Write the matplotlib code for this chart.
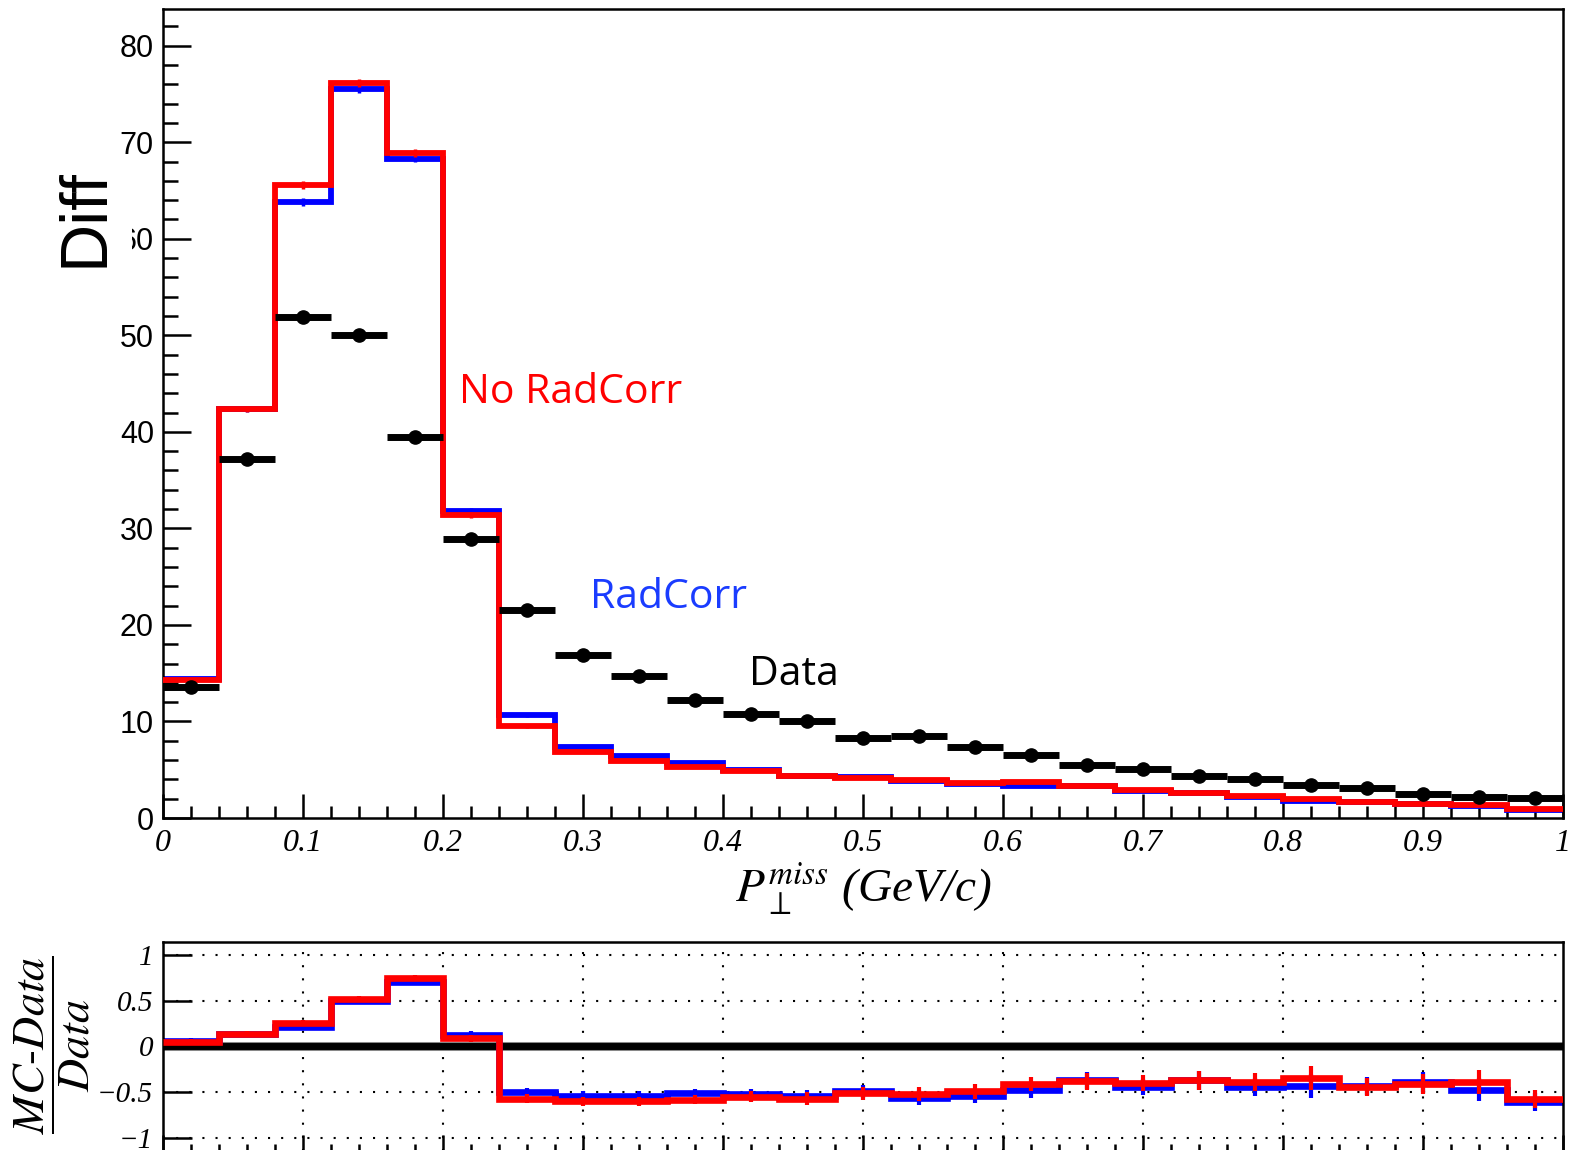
import numpy as np
import matplotlib
matplotlib.use("Agg")
import matplotlib.pyplot as plt
from matplotlib.ticker import MultipleLocator

plt.rcParams["mathtext.fontset"] = "stix"

# --- data ---
bin_edges = np.linspace(0.0, 1.0, 26)
bin_centers = 0.5 * (bin_edges[:-1] + bin_edges[1:])

data_vals = [13.6, 37.2, 51.9, 50.0, 39.5, 28.9, 21.5, 16.9, 14.7, 12.2,
             10.8, 10.0, 8.3, 8.5, 7.4, 6.5, 5.5, 5.1, 4.4, 4.0,
             3.4, 3.1, 2.5, 2.2, 2.1]
data_errs = [0.3, 0.4, 0.5, 0.5, 0.4, 0.4, 0.3, 0.3, 0.3, 0.3,
             0.2, 0.2, 0.2, 0.2, 0.2, 0.2, 0.2, 0.2, 0.2, 0.2,
             0.1, 0.1, 0.1, 0.1, 0.1]

norad_vals = [14.3, 42.4, 65.6, 76.1, 68.9, 31.4, 9.5, 6.8, 5.9, 5.3,
              4.9, 4.3, 4.1, 3.9, 3.6, 3.7, 3.3, 2.9, 2.6, 2.3,
              2.0, 1.7, 1.5, 1.3, 0.9]
norad_errs = [0.2, 0.3, 0.4, 0.4, 0.4, 0.3, 0.2, 0.1, 0.1, 0.1,
              0.1, 0.1, 0.1, 0.1, 0.1, 0.1, 0.1, 0.1, 0.1, 0.1,
              0.1, 0.1, 0.1, 0.1, 0.1]

rad_vals = [14.4, 42.4, 63.8, 75.5, 68.3, 31.8, 10.7, 7.4, 6.4, 5.7,
            5.0, 4.4, 4.2, 3.8, 3.5, 3.3, 3.3, 2.8, 2.6, 2.2,
            1.8, 1.7, 1.5, 1.2, 0.8]
rad_errs = [0.2, 0.3, 0.4, 0.4, 0.4, 0.3, 0.2, 0.1, 0.1, 0.1,
            0.1, 0.1, 0.1, 0.1, 0.1, 0.1, 0.1, 0.1, 0.1, 0.1,
            0.1, 0.1, 0.1, 0.1, 0.1]

ratio_norad = [0.05, 0.14, 0.26, 0.52, 0.75, 0.09, -0.57, -0.60, -0.60, -0.58,
               -0.55, -0.57, -0.51, -0.52, -0.49, -0.41, -0.38, -0.40, -0.37, -0.39,
               -0.34, -0.44, -0.41, -0.39, -0.57]
ratio_norad_errs = [0.03, 0.03, 0.03, 0.03, 0.03, 0.04, 0.05, 0.05, 0.05, 0.05,
                    0.06, 0.07, 0.07, 0.08, 0.08, 0.08, 0.09, 0.09, 0.10, 0.10,
                    0.13, 0.10, 0.11, 0.13, 0.10]

ratio_rad = [0.06, 0.14, 0.21, 0.50, 0.71, 0.13, -0.50, -0.54, -0.54, -0.51,
             -0.52, -0.54, -0.49, -0.56, -0.54, -0.48, -0.37, -0.44, -0.37, -0.44,
             -0.43, -0.43, -0.39, -0.47, -0.61]
ratio_rad_errs = [0.03, 0.03, 0.03, 0.03, 0.03, 0.04, 0.05, 0.05, 0.05, 0.05,
                  0.06, 0.07, 0.07, 0.08, 0.08, 0.08, 0.09, 0.09, 0.10, 0.10,
                  0.13, 0.10, 0.11, 0.13, 0.10]

x_ticklabels = ["0", "0.1", "0.2", "0.3", "0.4", "0.5", "0.6", "0.7",
                "0.8", "0.9", "1"]
ratio_ticks = [-1, -0.5, 0, 0.5, 1]
ratio_ticklabels = ["\u22121", "\u22120.5", "0", "0.5", "1"]

RED = "#ff0000"
BLUE = "#0000ff"

W, H = 1573, 1150
fig = plt.figure(figsize=(W / 100, H / 100), dpi=100)

# pixel helpers for axes placement
def px_axes(left, top, right, bottom):
    return [left / W, 1 - bottom / H, (right - left) / W, (bottom - top) / H]

# ---------------- top panel ----------------
ax = fig.add_axes(px_axes(163, 9, 1563, 818))
ax.stairs(rad_vals, bin_edges, color=BLUE, lw=4.2, baseline=None, zorder=2)
ax.errorbar(bin_centers, rad_vals, yerr=rad_errs, fmt="none", ecolor=BLUE,
            elinewidth=2.5, capsize=0, zorder=2)
ax.stairs(norad_vals, bin_edges, color=RED, lw=4.2, baseline=None, zorder=3)
ax.errorbar(bin_centers, norad_vals, yerr=norad_errs, fmt="none", ecolor=RED,
            elinewidth=2.5, capsize=0, zorder=3)
ax.errorbar(bin_centers, data_vals, xerr=0.02, yerr=data_errs, fmt="o",
            color="black", ms=9.5, elinewidth=5, capsize=0, zorder=4)

ax.set_xlim(0, 1)
ax.set_ylim(0, 83.8)
ax.xaxis.set_major_locator(MultipleLocator(0.1))
ax.xaxis.set_minor_locator(MultipleLocator(0.02))
ax.yaxis.set_major_locator(MultipleLocator(10))
ax.yaxis.set_minor_locator(MultipleLocator(2))
ax.tick_params(which="both", direction="in", top=False, right=False, width=1.8)
ax.tick_params(axis="y", which="major", length=20, pad=6.5, labelsize=22)
ax.tick_params(axis="y", which="minor", length=10.5)
ax.tick_params(axis="x", which="major", length=17, pad=8, labelsize=23)
ax.tick_params(axis="x", which="minor", length=8.5)
ax.set_xticks(np.arange(0, 1.01, 0.1))
ax.set_xticklabels(x_ticklabels)
for lab in ax.get_xticklabels():
    lab.set_family("Liberation Serif")
    lab.set_style("italic")
for lab in ax.get_yticklabels():
    lab.set_family("Liberation Sans")
for s in ax.spines.values():
    s.set_linewidth(1.8)

ax.set_xlabel(r"$P_{\perp}^{miss}$ (GeV/c)", fontsize=34,
              family="Liberation Serif", style="italic")
ax.xaxis.set_label_coords(0.5, -(902 - 818) / 809)
ax.xaxis.label.set_va("baseline")

# white box behind "Diff" hides part of the tick labels, as in the original
ax.set_ylabel("Diff", fontsize=48, family="Liberation Sans",
              bbox=dict(facecolor="white", edgecolor="none", pad=10.5))
ax.yaxis.set_label_coords((103 - 163) / 1400, (818 - 218) / 809)
ax.yaxis.label.set_va("baseline")

ax.text(0.2114, 43.0, "No RadCorr", color=RED, fontsize=29.5,
        family="Open Sans", va="baseline")
ax.text(0.305, 21.8, "RadCorr", color="#1a3cff", fontsize=29.5,
        family="Open Sans", va="baseline")
ax.text(0.4186, 13.8, "Data", color="black", fontsize=29.5,
        family="Open Sans", va="baseline")

# ---------------- ratio panel ----------------
rx = fig.add_axes(px_axes(163, 942, 1563, 1152))
rx.set_xlim(0, 1)
rx.set_ylim(-1.153, 1.142)
dots = (0, (1, 5.3))
for xv in np.arange(0.1, 0.95, 0.1):
    rx.axvline(xv, color="black", lw=1.5, ls=dots, zorder=1)
for yv in [1, 0.5, -0.5, -1]:
    rx.axhline(yv, color="black", lw=1.5, ls=dots, zorder=1)
rx.axhline(0, color="#888888", lw=6.5, zorder=1.5)
rx.axhline(0, color="black", lw=5.0, zorder=1.6)

rx.stairs(ratio_rad, bin_edges, color=BLUE, lw=4.8, baseline=None, zorder=2)
rx.errorbar(bin_centers, ratio_rad, yerr=ratio_rad_errs, fmt="none",
            ecolor=BLUE, elinewidth=3, capsize=0, zorder=2)
rx.stairs(ratio_norad, bin_edges, color=RED, lw=4.8, baseline=None, zorder=3)
rx.errorbar(bin_centers, ratio_norad, yerr=ratio_norad_errs, fmt="none",
            ecolor=RED, elinewidth=3, capsize=0, zorder=3)

rx.xaxis.set_major_locator(MultipleLocator(0.1))
rx.xaxis.set_minor_locator(MultipleLocator(0.02))
rx.set_yticks(ratio_ticks)
rx.set_yticklabels(ratio_ticklabels)
rx.tick_params(which="both", direction="in", top=False, right=False, width=1.8)
rx.tick_params(axis="y", which="major", length=21, pad=7, labelsize=21)
rx.tick_params(axis="x", which="major", length=12, labelbottom=False)
rx.tick_params(axis="x", which="minor", length=6)
for lab in rx.get_yticklabels():
    lab.set_family("Liberation Serif")
    lab.set_style("italic")
for s in rx.spines.values():
    s.set_linewidth(1.8)

rx.set_ylabel(r"$\dfrac{MC\text{-}Data}{Data}$", fontsize=33)
rx.yaxis.set_label_coords((52 - 163) / 1400, (1152 - 1045) / 210)
rx.yaxis.label.set_va("center")

fig.savefig("out.png", dpi=100)
